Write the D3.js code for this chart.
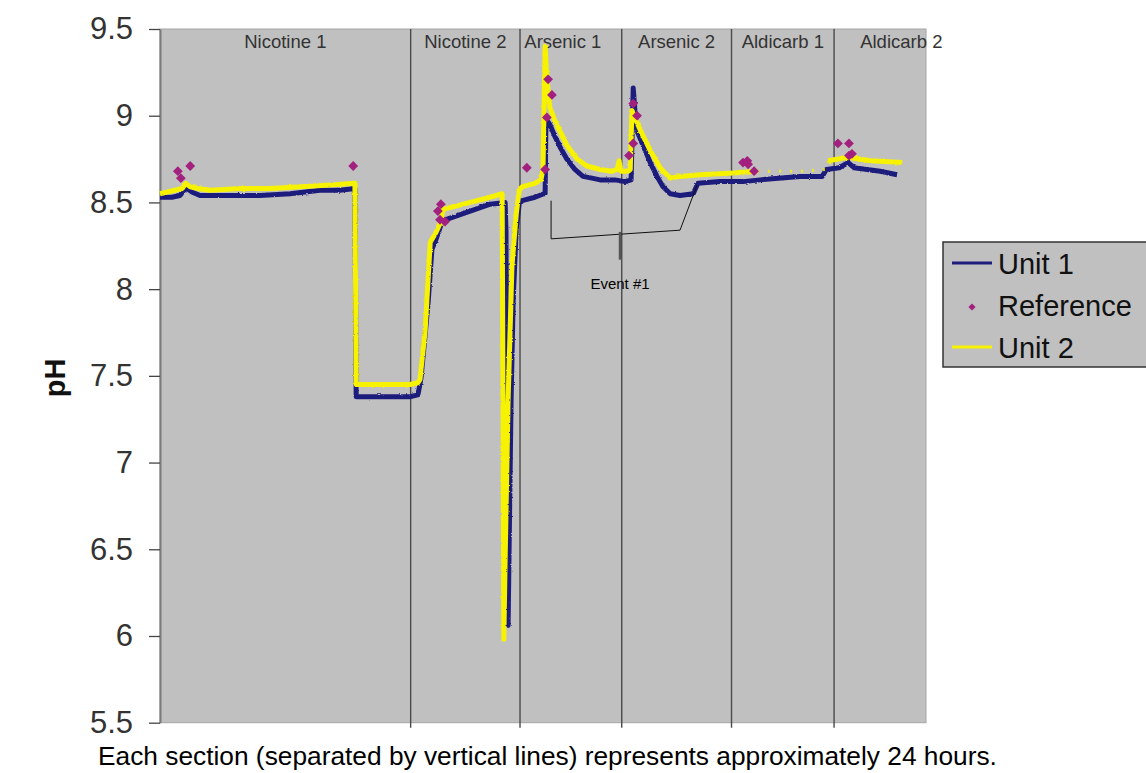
<!DOCTYPE html>
<html>
<head>
<meta charset="utf-8">
<script src="https://cdn.jsdelivr.net/npm/d3@7"></script>
<style>
  body { margin: 0; background: #ffffff; }
  svg { display: block; font-family: Arial, "Liberation Sans", Helvetica, sans-serif; }
</style>
</head>
<body>
<svg id="chart" width="1146" height="773"></svg>
<script>
// ---------------- DATA ----------------
const sectionNames  = ["Nicotine 1", "Nicotine 2", "Arsenic 1", "Arsenic 2", "Aldicarb 1", "Aldicarb 2"];
const sectionStarts = [0, 58.9, 84.6, 108.5, 134.3, 158.4];   // hours
const timeEnd = 180;                                          // hours
const yTicks = [5.5, 6, 6.5, 7, 7.5, 8, 8.5, 9, 9.5];

// Unit 1 : [hour, pH]
const unit1 = [
  [0, 8.53], [2.8, 8.53], [4.7, 8.54], [5.6, 8.57], [6.3, 8.58], [7.5, 8.56], [9.4, 8.54],
  [11.8, 8.54], [16.5, 8.54], [23.5, 8.54], [30.6, 8.55], [37.6, 8.57], [42.3, 8.57], [45.8, 8.58],
  [46.1, 7.38], [49.4, 7.38], [54.1, 7.38], [58.8, 7.38], [60.6, 7.39], [61.3, 7.48], [63.0, 7.92],
  [63.9, 8.23], [64.9, 8.29], [66.3, 8.39], [67.0, 8.40], [72.9, 8.45], [77.6, 8.49], [81.1, 8.50],
  [81.3, 8.34], [81.5, 7.13], [81.8, 6.06], [82.0, 6.44], [82.5, 7.36], [83.0, 7.94], [83.7, 8.34],
  [84.4, 8.49], [85.1, 8.51], [88.1, 8.53], [90.2, 8.55], [90.5, 8.55], [90.7, 8.98], [91.6, 8.95],
  [92.8, 8.88], [94.0, 8.82], [95.6, 8.75], [97.5, 8.69], [99.4, 8.65], [101.5, 8.64], [103.4, 8.63],
  [106.9, 8.63], [109.3, 8.62], [110.7, 8.63], [111.2, 9.16], [111.6, 9.03], [112.3, 8.90],
  [114.0, 8.80], [115.2, 8.73], [116.8, 8.65], [118.2, 8.59], [119.9, 8.55], [122.2, 8.54],
  [125.3, 8.55], [126.4, 8.61], [131.6, 8.62], [137.0, 8.62], [141.0, 8.63], [150.4, 8.65],
  [155.6, 8.65], [156.6, 8.69], [159.6, 8.70], [161.7, 8.73], [163.1, 8.70], [169.2, 8.68], [173.2, 8.66]
];

// Unit 2 : [hour, pH]  (null = gap in the record)
const unit2 = [
  [0, 8.55], [3.5, 8.57], [5.2, 8.58], [6.1, 8.61], [7.1, 8.59], [8.9, 8.58], [11.8, 8.57],
  [18.8, 8.58], [25.9, 8.58], [32.9, 8.59], [40.0, 8.60], [45.8, 8.61],
  [46.1, 7.45], [51.7, 7.45], [58.8, 7.45], [60.6, 7.46], [61.1, 7.48], [62.3, 7.76], [63.5, 8.27],
  [64.9, 8.33], [66.0, 8.39], [66.5, 8.46], [72.9, 8.50], [77.6, 8.53], [80.4, 8.55],
  [80.6, 7.36], [80.8, 5.98], [81.1, 6.44], [81.8, 7.36], [82.7, 8.13], [83.7, 8.43], [84.4, 8.57],
  [85.1, 8.59], [88.1, 8.61], [89.5, 8.63], [90.0, 8.69], [90.5, 9.40], [90.9, 9.21], [91.6, 9.05],
  [92.8, 8.97], [94.0, 8.91], [95.6, 8.83], [98.0, 8.75], [100.3, 8.71], [103.4, 8.69], [106.2, 8.68],
  [107.4, 8.69], [107.9, 8.74], [108.3, 8.68], [110.0, 8.68], [110.5, 8.69], [110.9, 9.03],
  [111.6, 8.99], [112.8, 8.92], [115.2, 8.80], [117.5, 8.70], [119.9, 8.64], [122.2, 8.65],
  [126.9, 8.66], [134.7, 8.67], [140.3, 8.68],
  [140.4, null],
  [157.0, 8.74], [161.7, 8.76], [166.9, 8.74], [174.4, 8.73]
];
// sparse stretch of Unit 2 (Aldicarb 1)
const unit2Sparse = [[140.3, 8.68], [145.7, 8.68], [150.4, 8.68], [156.6, 8.69], [157.0, 8.74]];

// Reference grab samples : [hour, pH]
const reference = [
  [4.2, 8.68], [4.9, 8.64], [7.1, 8.71], [45.4, 8.71],
  [66.0, 8.49], [65.3, 8.45], [65.8, 8.40], [67.0, 8.39],
  [86.2, 8.70], [91.2, 9.21], [92.1, 9.12], [90.9, 8.99], [90.5, 8.69],
  [111.2, 9.07], [112.1, 9.00], [111.2, 8.84], [110.2, 8.77],
  [137.0, 8.73], [138.0, 8.74], [138.2, 8.72], [139.6, 8.68],
  [159.3, 8.84], [161.9, 8.84], [162.6, 8.78], [161.9, 8.77]
];

// Event #1 bracket : [hour, pH]
const eventBracket = [[91.9, 8.51], [91.9, 8.29], [122.2, 8.34], [126.2, 8.60]];
const eventMark = [[108.1, 8.33], [108.1, 8.17]];
const eventLabel = { text: "Event #1", hour: 108.1, pH: 8.0 };

const legendItems = ["Unit 1", "Reference", "Unit 2"];
const caption = "Each section (separated by vertical lines) represents approximately 24 hours.";
const yTitle = "pH";

// ---------------- DRAW ----------------
const svg = d3.select("#chart");
const C = { navy: "#1f1c7c", yellow: "#f6f200", ref: "#a2207e", plot: "#c0c0c0" };

// roughness filter to mimic the noisy logger traces
const defs = svg.append("defs");
const f = defs.append("filter").attr("id", "rough")
  .attr("x", "-5%").attr("y", "-5%").attr("width", "110%").attr("height", "110%");
f.append("feTurbulence").attr("type", "fractalNoise").attr("baseFrequency", "0.35 0.9")
  .attr("numOctaves", 1).attr("seed", 3).attr("result", "n");
f.append("feDisplacementMap").attr("in", "SourceGraphic").attr("in2", "n")
  .attr("scale", 2.5).attr("xChannelSelector", "R").attr("yChannelSelector", "G");

const x = d3.scaleLinear().domain([0, timeEnd]).range([160, 926]);
const y = d3.scaleLinear().domain([5.5, 9.5]).range([722.7, 29]);

// plot area
svg.append("rect")
  .attr("x", x(0)).attr("y", y(9.5))
  .attr("width", x(timeEnd) - x(0)).attr("height", y(5.5) - y(9.5))
  .attr("fill", C.plot).attr("stroke", "#a6a6a6").attr("stroke-width", 1);

// section dividers
svg.append("g").selectAll("line")
  .data(sectionStarts.slice(1))
  .join("line")
  .attr("x1", d => x(d)).attr("x2", d => x(d))
  .attr("y1", y(9.5)).attr("y2", y(5.5) + 5)
  .attr("stroke", "#4a4a4a").attr("stroke-width", 1.4);

// section labels
const sectionEnds = sectionStarts.slice(1).concat([timeEnd + 10]);
svg.append("g").selectAll("text")
  .data(sectionNames)
  .join("text")
  .attr("x", (d, i) => x((sectionStarts[i] + sectionEnds[i]) / 2) - (i === 2 ? 8 : 0))
  .attr("y", 48)
  .attr("text-anchor", "middle")
  .attr("font-size", 18.5)
  .attr("fill", "#333")
  .text(d => d);

// y axis
const yAxis = d3.axisLeft(y).tickValues(yTicks).tickSize(11).tickSizeOuter(0).tickPadding(16)
  .tickFormat(d3.format(""));
const gy = svg.append("g").attr("transform", `translate(${x(0)},0)`).call(yAxis);
gy.select(".domain").attr("stroke", "#7a7a7a").attr("stroke-width", 2);
gy.selectAll(".tick line").attr("stroke", "#444").attr("stroke-width", 1.3);
gy.selectAll(".tick text").attr("font-size", 31).attr("fill", "#333")
  .attr("font-family", "Arial, 'Liberation Sans', sans-serif");

// y title
svg.append("text")
  .attr("transform", `translate(65,${(y(9.5) + y(5.5)) / 2 + 2}) rotate(-90)`)
  .attr("text-anchor", "middle")
  .attr("font-size", 29).attr("font-weight", "bold").attr("fill", "#111")
  .text(yTitle);

// lines
const line = d3.line()
  .defined(d => d[1] !== null)
  .x(d => x(d[0])).y(d => y(d[1]));

const traces = svg.append("g").attr("filter", "url(#rough)");

traces.append("path").datum(unit1)
  .attr("d", line).attr("fill", "none")
  .attr("stroke", C.navy).attr("stroke-width", 5).attr("stroke-linejoin", "round");

traces.append("path").datum(unit2Sparse)
  .attr("d", line).attr("fill", "none")
  .attr("stroke", C.yellow).attr("stroke-width", 3)
  .attr("stroke-dasharray", "2,9").attr("opacity", 0.8);

traces.append("path").datum(unit2)
  .attr("d", line).attr("fill", "none")
  .attr("stroke", C.yellow).attr("stroke-width", 5).attr("stroke-linejoin", "round");

// reference diamonds
const diamond = d3.symbol().type(d3.symbolSquare).size(48);
svg.append("g").selectAll("path")
  .data(reference)
  .join("path")
  .attr("d", diamond)
  .attr("transform", d => `translate(${x(d[0])},${y(d[1])}) rotate(45)`)
  .attr("fill", C.ref);

// event annotation
svg.append("path").datum(eventBracket)
  .attr("d", line).attr("fill", "none")
  .attr("stroke", "#111").attr("stroke-width", 1);
svg.append("path").datum(eventMark)
  .attr("d", line).attr("fill", "none")
  .attr("stroke", "#555").attr("stroke-width", 2.5);
svg.append("text")
  .attr("x", x(eventLabel.hour)).attr("y", y(eventLabel.pH))
  .attr("text-anchor", "middle").attr("font-size", 15).attr("fill", "#000")
  .text(eventLabel.text);

// legend
const lg = svg.append("g");
lg.append("rect").attr("x", 943).attr("y", 242).attr("width", 220).attr("height", 125)
  .attr("fill", C.plot).attr("stroke", "#333").attr("stroke-width", 1.5);
const rowY = [263, 305, 347];
lg.selectAll("text").data(legendItems).join("text")
  .attr("x", 998).attr("y", (d, i) => rowY[i] + 11)
  .attr("font-size", 29).attr("fill", "#111")
  .text(d => d);
lg.append("line").attr("x1", 952).attr("x2", 992).attr("y1", rowY[0]).attr("y2", rowY[0])
  .attr("stroke", C.navy).attr("stroke-width", 3);
lg.append("line").attr("x1", 952).attr("x2", 992).attr("y1", rowY[2]).attr("y2", rowY[2])
  .attr("stroke", C.yellow).attr("stroke-width", 3);
lg.append("path").attr("d", d3.symbol().type(d3.symbolSquare).size(26))
  .attr("transform", `translate(972,${rowY[1] + 2}) rotate(45)`).attr("fill", C.ref);

// caption
svg.append("text")
  .attr("x", 98).attr("y", 765)
  .attr("font-size", 26.3).attr("fill", "#000")
  .text(caption);
</script>
</body>
</html>
